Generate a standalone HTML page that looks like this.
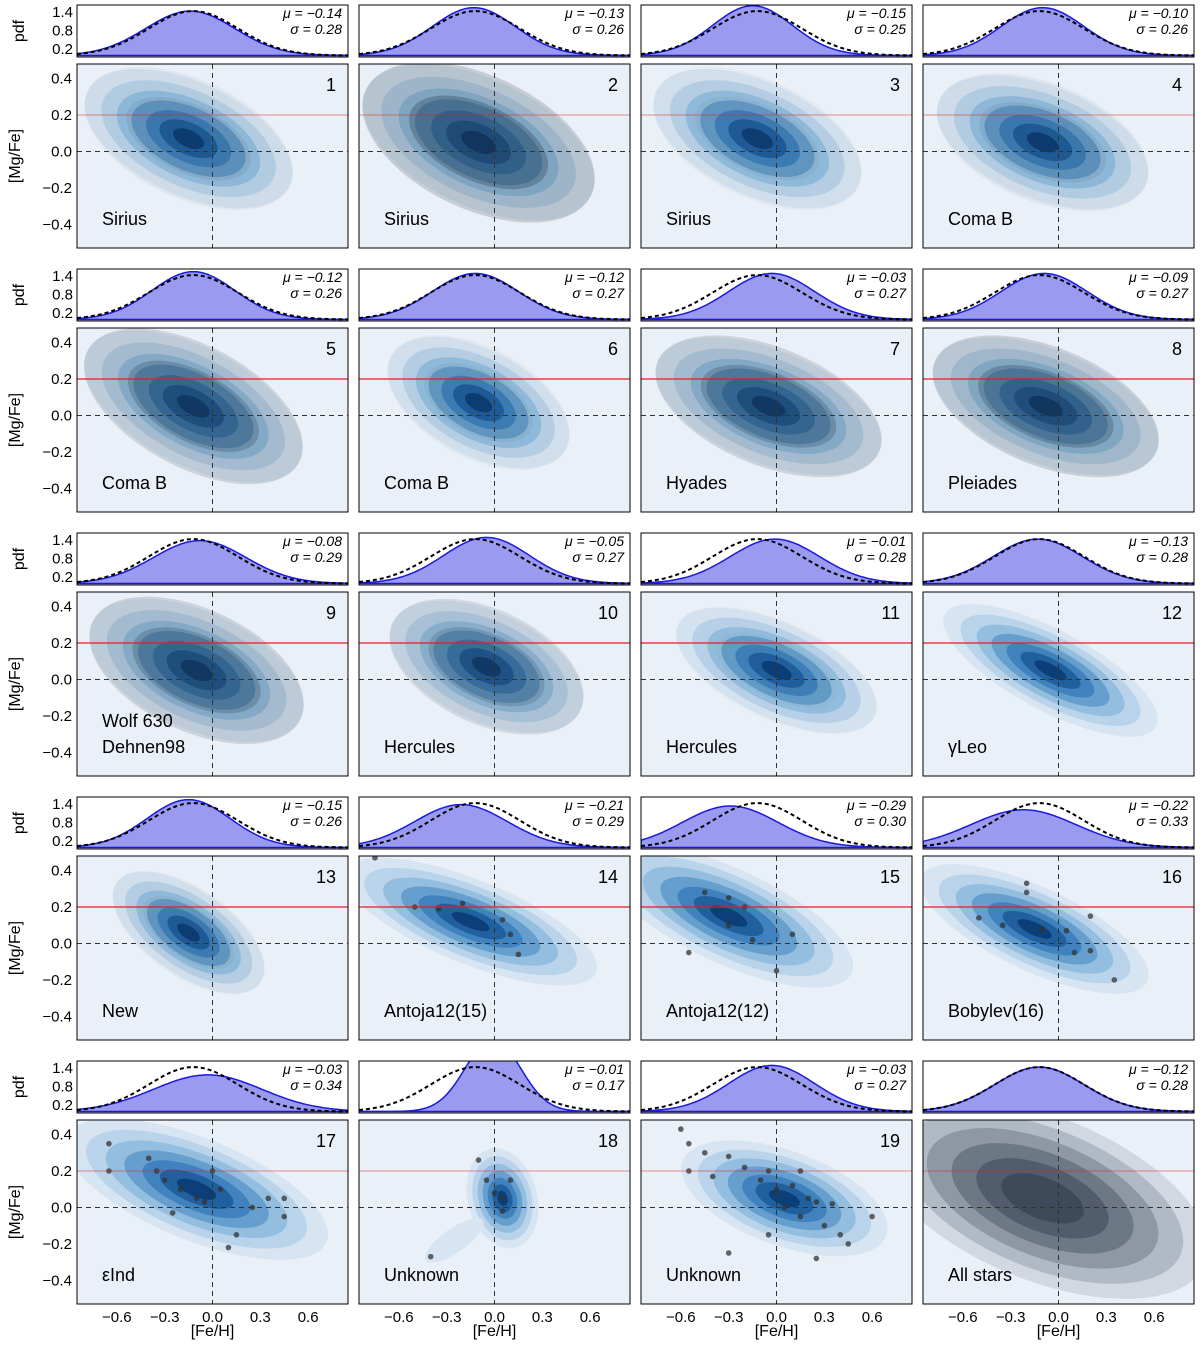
<!DOCTYPE html>
<html><head><meta charset="utf-8">
<style>
body{margin:0;background:#fff;}
svg text{font-family:"Liberation Sans",sans-serif;}
</style></head>
<body>
<svg id="fig" width="1200" height="1342" xmlns="http://www.w3.org/2000/svg"></svg>
<script>
// ---- data ----
const panelNums = [1,2,3,4,5,6,7,8,9,10,11,12,13,14,15,16,17,18,19,20];
const names = ["Sirius","Sirius","Sirius","Coma B","Coma B","Coma B","Hyades","Pleiades","Wolf 630|Dehnen98","Hercules","Hercules","γLeo","New","Antoja12(15)","Antoja12(12)","Bobylev(16)","εInd","Unknown","Unknown","All stars"];
const mus = [-0.14,-0.13,-0.15,-0.10,-0.12,-0.12,-0.03,-0.09,-0.08,-0.05,-0.01,-0.13,-0.15,-0.21,-0.29,-0.22,-0.03,-0.01,-0.03,-0.12];
const sigmas = [0.28,0.26,0.25,0.26,0.26,0.27,0.27,0.27,0.29,0.27,0.28,0.28,0.26,0.29,0.30,0.33,0.34,0.17,0.27,0.28];
const refMu = -0.12, refSigma = 0.28;
const centerFe = [-0.15,-0.1,-0.12,-0.1,-0.12,-0.1,-0.05,-0.08,-0.1,-0.05,0.0,-0.05,-0.15,-0.15,-0.3,-0.15,-0.1,0.05,0.05,-0.1];
const centerMg = [0.07,0.05,0.07,0.05,0.05,0.07,0.05,0.05,0.05,0.07,0.05,0.05,0.06,0.12,0.15,0.08,0.1,0.05,0.05,0.05];
const spreadA = [0.7,0.78,0.7,0.7,0.75,0.62,0.75,0.75,0.72,0.65,0.68,0.75,0.55,0.85,0.85,0.78,0.88,0.32,0.68,1.1];
const spreadB = [0.31,0.35,0.31,0.31,0.32,0.29,0.31,0.31,0.32,0.3,0.26,0.22,0.23,0.23,0.26,0.23,0.28,0.19,0.26,0.45];
const tilt = [25,25,25,22,28,28,22,22,25,25,25,28,35,22,25,25,22,75,20,22];
const scatterDensity = [0.15,0.55,0.1,0.15,0.45,0.1,0.45,0.5,0.45,0.35,0.05,0,0.1,0,0,0,0,0,0,0.9];
const points = {
 14:[[-0.75,0.47],[-0.5,0.2],[-0.35,0.19],[-0.2,0.22],[0.05,0.13],[0.1,0.05],[0.15,-0.06]],
 15:[[-0.45,0.28],[-0.3,0.25],[-0.2,0.2],[-0.15,0.02],[-0.55,-0.05],[0.1,0.05],[0.0,-0.15],[-0.3,0.1]],
 16:[[-0.2,0.28],[-0.2,0.33],[-0.5,0.14],[-0.35,0.1],[-0.1,0.08],[0.05,0.07],[0.1,-0.05],[0.2,0.15],[0.35,-0.2],[0.2,-0.04]],
 17:[[-0.65,0.35],[-0.65,0.2],[-0.4,0.27],[-0.35,0.2],[-0.3,0.15],[-0.2,0.1],[-0.1,0.05],[0.0,0.2],[0.05,0.1],[-0.25,-0.03],[0.15,-0.15],[0.25,0.0],[0.35,0.05],[0.45,0.05],[0.45,-0.05],[0.1,-0.22],[-0.05,0.03]],
 18:[[-0.4,-0.27],[-0.1,0.26],[-0.05,0.15],[0.0,0.08],[0.05,0.05],[0.1,0.15],[0.05,-0.02]],
 19:[[-0.6,0.43],[-0.55,0.35],[-0.55,0.2],[-0.45,0.3],[-0.4,0.17],[-0.3,0.28],[-0.2,0.22],[-0.1,0.15],[-0.05,0.2],[0.0,0.1],[0.05,0.0],[0.1,0.12],[0.15,-0.05],[0.2,0.05],[0.25,0.03],[0.3,-0.1],[0.35,0.02],[0.4,-0.15],[0.45,-0.2],[0.6,-0.05],[0.25,-0.28],[-0.05,-0.15],[-0.3,-0.25],[0.15,0.2]]
};
const xTicks = [-0.6,-0.3,0.0,0.3,0.6];
const yTicks = [0.4,0.2,0.0,-0.2,-0.4];
const pdfTicks = [1.4,0.8,0.2];

// ---- layout ----
const NS="http://www.w3.org/2000/svg";
const svg=document.getElementById('fig');
const colX=[77,359,641,923], W=271, MH=184, PH=52;
const xMin=-0.85,xMax=0.85,yMin=-0.53,yMax=0.48,pMin=-0.05,pMax=1.62;
function el(tag,attrs,parent){const e=document.createElementNS(NS,tag);for(const k in attrs)e.setAttribute(k,attrs[k]);(parent||svg).appendChild(e);return e;}
const levels=["#d7e5f3","#b9d3ea","#93bedf","#669fcd","#3f82bd","#21609f","#0c3f78"];
const scales=[1,0.84,0.69,0.55,0.41,0.28,0.15];

panelNums.forEach((n,i)=>{
 const c=i%4,r=Math.floor(i/4);
 const x0=colX[c], mt=64+264*r, pt=5+264*r;
 const sx=v=>x0+(v-xMin)/(xMax-xMin)*W;
 const sy=v=>mt+(yMax-v)/(yMax-yMin)*MH;
 const sp=v=>pt+(pMax-v)/(pMax-pMin)*PH;
 // pdf panel
 const pg=el('g',{});
 
 
 const cid='cp'+n;
 const cp=el('clipPath',{id:cid},pg);el('rect',{x:x0,y:pt,width:W,height:PH},cp);
 const cg=el('g',{'clip-path':`url(#${cid})`},pg);
 let d='M'+x0+','+sp(0),dr='';
 for(let k=0;k<=120;k++){const v=xMin+(xMax-xMin)*k/120;
  const g=Math.exp(-0.5*((v-mus[i])/sigmas[i])**2)/(sigmas[i]*Math.sqrt(2*Math.PI));
  const gr=Math.exp(-0.5*((v-refMu)/refSigma)**2)/(refSigma*Math.sqrt(2*Math.PI));
  d+=' L'+sx(v).toFixed(1)+','+sp(g).toFixed(1);
  dr+=(k?' L':'M')+sx(v).toFixed(1)+','+sp(gr).toFixed(1);}
 const fill=el('path',{d:d+' L'+(x0+W)+','+sp(0)+' Z',fill:'#9a9af0',stroke:'#1a1adc','stroke-width':1.5},cg);
 
 
 const ref=el('path',{d:dr,fill:'none',stroke:'#000','stroke-width':2,'stroke-dasharray':'4,3'},cg);
 
 
 el('rect',{x:x0,y:pt,width:W,height:PH,fill:'none',stroke:'#000','stroke-width':1},pg);
 const st=el('text',{x:x0+W-6,y:pt+13,'text-anchor':'end','font-size':14,'font-style':'italic','font-family':'Liberation Serif,serif'},pg);
 st.textContent=mus[i]<0?'μ = −'+Math.abs(mus[i]).toFixed(2):'μ = '+mus[i].toFixed(2);
 
 
 const st2=el('text',{x:x0+W-6,y:pt+29,'text-anchor':'end','font-size':14,'font-style':'italic','font-family':'Liberation Serif,serif'},pg);
 st2.textContent='σ = '+sigmas[i].toFixed(2);
 
 
 if(c===0){pdfTicks.forEach(t=>{const tt=el('text',{x:x0-4,y:sp(t)+5,'text-anchor':'end','font-size':15},pg);tt.textContent=t.toFixed(1);});
  const pl=el('text',{x:24,y:pt+PH/2,'text-anchor':'middle','font-size':16,transform:`rotate(-90 24 ${pt+PH/2})`},pg);pl.textContent='pdf';
  
  }
 // main panel
 const mg=el('g',{});
 
 
 const mid='cm'+n;
 const cm=el('clipPath',{id:mid},mg);el('rect',{x:x0,y:mt,width:W,height:MH},cm);
 el('rect',{x:x0,y:mt,width:W,height:MH,fill:'#eaf0f8'},mg);
 const kg=el('g',{'clip-path':`url(#${mid})`},mg);
 const cx=sx(centerFe[i]),cy=sy(centerMg[i]);
 const a=spreadA[i]*W/(xMax-xMin),b=spreadB[i]*MH/(yMax-yMin);
 if(n===20){
  [1,0.85,0.7,0.55,0.4,0.25].forEach((s,k)=>{el('ellipse',{cx,cy,rx:a*s,ry:b*s,fill:'#203040','fill-opacity':0.12+k*0.06,transform:`rotate(${tilt[i]} ${cx} ${cy})`},kg);});
 } else {
  levels.forEach((col,k)=>{
   const e=el('ellipse',{cx,cy,rx:a*scales[k],ry:b*scales[k],fill:col,transform:`rotate(${tilt[i]} ${cx} ${cy})`},kg);
   
   
  });
  if(n===18){el('ellipse',{cx:sx(-0.25),cy:sy(-0.18),rx:35,ry:12,fill:'#d7e5f3',transform:`rotate(-35 ${sx(-0.25)} ${sy(-0.18)})`},kg);}
  if(scatterDensity[i]>0){
   el('ellipse',{cx,cy,rx:a*1.0,ry:b*1.05,fill:'#303840','fill-opacity':scatterDensity[i]*0.35,transform:`rotate(${tilt[i]} ${cx} ${cy})`},kg);
   el('ellipse',{cx,cy,rx:a*0.6,ry:b*0.6,fill:'#102030','fill-opacity':scatterDensity[i]*0.45,transform:`rotate(${tilt[i]} ${cx} ${cy})`},kg);
  }
 }
 (points[n]||[]).forEach(p=>{const pp=el('circle',{cx:sx(p[0]),cy:sy(p[1]),r:2.8,fill:'#333','fill-opacity':0.75},kg);
  
  });
 const red=el('line',{x1:x0,x2:x0+W,y1:sy(0.2),y2:sy(0.2),stroke:'#e02020','stroke-width':(r>=1&&r<=3)?1.2:0.6},kg);
 
 
 el('line',{x1:x0,x2:x0+W,y1:sy(0),y2:sy(0),stroke:'#333','stroke-width':1,'stroke-dasharray':'5,4'},kg);
 el('line',{x1:sx(0),x2:sx(0),y1:mt,y2:mt+MH,stroke:'#333','stroke-width':1,'stroke-dasharray':'5,4'},kg);
 el('rect',{x:x0,y:mt,width:W,height:MH,fill:'none',stroke:'#000','stroke-width':1},mg);
 if(n!==20){const nt=el('text',{x:x0+W-12,y:mt+27,'text-anchor':'end','font-size':18},mg);nt.textContent=n;
 
 }
 const parts=names[i].split('|');
 parts.forEach((s,k)=>{const t=el('text',{x:x0+25,y:mt+MH-23-(parts.length-1-k)*26,'font-size':18},mg);t.textContent=s;
  
  });
 if(c===0){yTicks.forEach(t=>{const tt=el('text',{x:x0-5,y:sy(t)+5,'text-anchor':'end','font-size':15},mg);tt.textContent=(t<0?'−':'')+Math.abs(t).toFixed(1);});
  const yl=el('text',{x:20,y:mt+MH/2,'text-anchor':'middle','font-size':16,transform:`rotate(-90 20 ${mt+MH/2})`},mg);yl.textContent='[Mg/Fe]';
  
  }
 if(r===4){xTicks.forEach(t=>{const tt=el('text',{x:sx(t),y:mt+MH+18,'text-anchor':'middle','font-size':15},mg);tt.textContent=(t<0?'−':'')+Math.abs(t).toFixed(1);});
  const xl=el('text',{x:x0+W/2,y:1336,'text-anchor':'middle','font-size':16},mg);xl.textContent='[Fe/H]';
  
  }
});
</script>
</body></html>
